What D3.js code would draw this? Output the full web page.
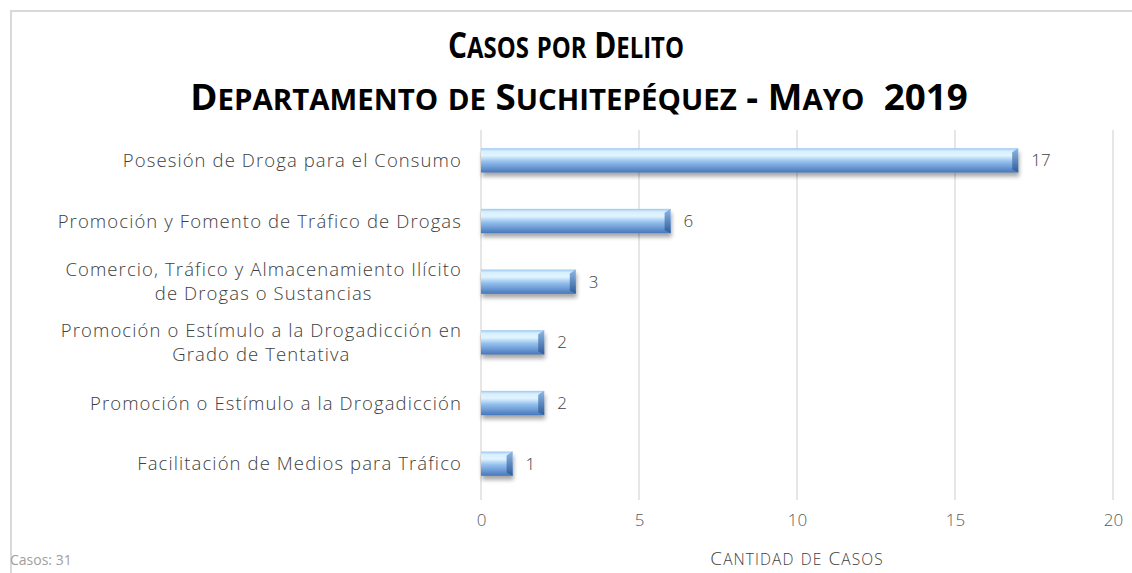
<!DOCTYPE html>
<html>
<head>
  <style type="text/css">
    body { margin: 0; background: #fff; }
    svg { display: block; font-family: 'Open Sans', sans-serif; }
  </style>
</head>
<body>
  <svg width="1132" height="573" id="chart"></svg>
  <script src="https://d3js.org/d3.v7.min.js"></script>
  <script>

// data
let categories = [
  ['Posesión de Droga para el Consumo'],
  ['Promoción y Fomento de Tráfico de Drogas'],
  ['Comercio, Tráfico y Almacenamiento Ilícito', 'de Drogas o Sustancias'],
  ['Promoción o Estímulo a la Drogadicción en', 'Grado de Tentativa'],
  ['Promoción o Estímulo a la Drogadicción'],
  ['Facilitación de Medios para Tráfico']
]
let values = [17, 6, 3, 2, 2, 1]
let xTicks = [0, 5, 10, 15, 20]
let titleLines = ['Casos por Delito', 'Departamento de Suchitepéquez - Mayo  2019']
let axisTitle = 'Cantidad de Casos'
let footnote = 'Casos: 31'

let svg = d3.select('#chart')

// chart border (only top and left visible)
svg.append('path')
  .attr('d', 'M11,573 V11 H1132')
  .attr('fill', 'none')
  .attr('stroke', '#d9d9d9')
  .attr('stroke-width', 2)

let defs = svg.append('defs')
let grad = defs.append('linearGradient').attr('id', 'barGrad')
  .attr('x1', 0).attr('y1', 0).attr('x2', 0).attr('y2', 1)
grad.append('stop').attr('offset', '0%').attr('stop-color', '#9cc6f0')
grad.append('stop').attr('offset', '12%').attr('stop-color', '#d6efff')
grad.append('stop').attr('offset', '30%').attr('stop-color', '#e2f5ff')
grad.append('stop').attr('offset', '55%').attr('stop-color', '#94c0ee')
grad.append('stop').attr('offset', '100%').attr('stop-color', '#4777bd')
let endGrad = defs.append('linearGradient').attr('id', 'endGrad')
  .attr('x1', 0).attr('y1', 0).attr('x2', 0).attr('y2', 1)
endGrad.append('stop').attr('offset', '0%').attr('stop-color', '#8db8e6')
endGrad.append('stop').attr('offset', '100%').attr('stop-color', '#2f5c98')
let blur = defs.append('filter').attr('id', 'shadow')
  .attr('x', '-10%').attr('y', '-50%').attr('width', '130%').attr('height', '250%')
blur.append('feGaussianBlur').attr('stdDeviation', 2)

// small caps helper: capitals large, lowercase shown as small capitals
function smallCaps(textSel, str, big, small) {
  let parts = str.match(/([A-ZÁÉÍÓÚÑ0-9\-: ]+|[a-záéíóúñ]+)/g)
  parts.forEach(p => {
    let lower = /[a-záéíóúñ]/.test(p)
    textSel.append('tspan')
      .attr('font-size', lower ? small : big)
      .text(p.toUpperCase())
  })
}

// squeeze a title line horizontally to the width seen in the reference
function titleLine(str, cx, by, width) {
  let g = svg.append('g')
  let t = g.append('text').attr('text-anchor', 'middle')
    .attr('font-weight', 'bold').attr('fill', '#000')
    .style('white-space', 'pre')
  smallCaps(t, str, 35, 28)
  let k = width / t.node().getComputedTextLength()
  g.attr('transform', 'translate(' + cx + ',' + by + ') scale(' + k + ',1)')
}
titleLine(titleLines[0], 566, 58, 236)
titleLine(titleLines[1], 579, 110, 778)

let margin = { left: 481, right: 19, top: 130, bottom: 79 }
let x = d3.scaleLinear().domain([0, 20]).range([margin.left, 1132 - margin.right])
let y = d3.scaleBand().domain(d3.range(values.length))
  .range([margin.top, 573 - margin.bottom]).paddingInner(0.6).paddingOuter(0.3)

// gridlines
svg.append('g').selectAll('line').data(xTicks).join('line')
  .attr('x1', d => x(d)).attr('x2', d => x(d))
  .attr('y1', margin.top).attr('y2', 500)
  .attr('stroke', '#d9d9d9').attr('stroke-width', 1.3)

// x axis tick labels
let xAxis = svg.append('g').attr('transform', 'translate(0,' + 500 + ')')
  .call(d3.axisBottom(x).tickValues(xTicks).tickSize(0).tickPadding(14))
xAxis.select('.domain').remove()
xAxis.selectAll('text').attr('font-size', 17).attr('fill', '#595959')
  .attr('font-family', "'Open Sans', sans-serif").attr('font-weight', 300)

let bars = svg.append('g').selectAll('g').data(values).join('g')
  .attr('transform', (d, i) => 'translate(0,' + y(i) + ')')
let bh = y.bandwidth()

bars.append('rect')
  .attr('x', x(0) + 1).attr('y', 4)
  .attr('width', d => x(d) - x(0)).attr('height', bh)
  .attr('fill', '#000').attr('opacity', 0.35).attr('filter', 'url(#shadow)')
bars.append('rect')
  .attr('x', x(0)).attr('y', 0)
  .attr('width', d => x(d) - x(0)).attr('height', bh)
  .attr('fill', 'url(#barGrad)')
// bevelled right end
bars.append('path')
  .attr('d', d => {
    let xe = x(d)
    return 'M' + (xe - 6) + ',4 L' + xe + ',0 V' + bh + ' L' + (xe - 6) + ',' + (bh - 3) + 'Z'
  })
  .attr('fill', 'url(#endGrad)')

bars.append('text')
  .attr('x', d => x(d) + 13).attr('y', bh / 2).attr('dy', '0.36em')
  .attr('font-size', 17).attr('fill', '#404040').attr('font-weight', 300)
  .text(d => d)

// category labels
let labels = svg.append('g').selectAll('text').data(categories).join('text')
  .attr('text-anchor', 'middle')
  .attr('font-size', 18.5).attr('fill', '#404040').attr('font-weight', 300)
  .attr('letter-spacing', 1.1)
  .attr('font-family', "'Open Sans', sans-serif")
labels.each(function(lines, i) {
  let cy = y(i) + bh / 2
  let lh = 24
  let sel = d3.select(this)
  lines.forEach((l, j) => {
    sel.append('tspan').attr('y', cy + (j - (lines.length - 1) / 2) * lh).attr('dy', '0.36em').text(l)
  })
})
// right-align the block, lines centred on its widest line
labels.each(function() {
  let sel = d3.select(this)
  let widths = []
  sel.selectAll('tspan').each(function() { widths.push(this.getComputedTextLength()) })
  let maxW = d3.max(widths)
  sel.selectAll('tspan').attr('x', 462 - maxW / 2)
})

svg.append('text').attr('x', 797).attr('y', 565).attr('text-anchor', 'middle')
  .attr('fill', '#404040').attr('font-weight', 300).attr('letter-spacing', 1.1)
  .call(s => smallCaps(s, axisTitle, 19, 15.5))

svg.append('text').attr('x', 10).attr('y', 565)
  .attr('font-size', 14).attr('fill', '#a0a0a0')
  .text(footnote)

  </script>
</body>
</html>
